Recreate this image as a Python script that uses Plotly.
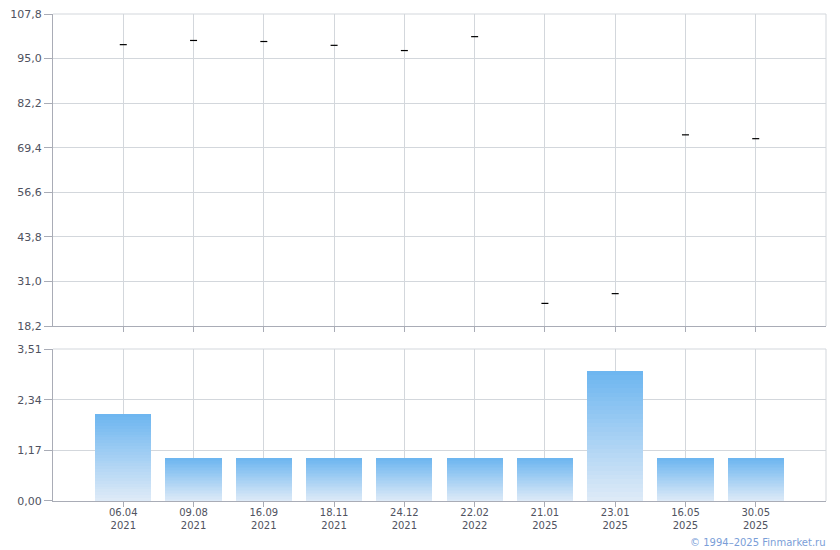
import plotly.graph_objects as go

categories = ["06.04<br>2021", "09.08<br>2021", "16.09<br>2021", "18.11<br>2021", "24.12<br>2021",
              "22.02<br>2022", "21.01<br>2025", "23.01<br>2025", "16.05<br>2025", "30.05<br>2025"]
prices = [99.0, 100.2, 99.9, 98.8, 97.3, 101.3, 24.7, 27.5, 73.1, 72.0]
volumes = [2, 1, 1, 1, 1, 1, 1, 3, 1, 1]
price_ticks = [18.2, 31.0, 43.8, 56.6, 69.4, 82.2, 95.0, 107.8]
volume_ticks = [0.00, 1.17, 2.34, 3.51]

GRID = "#d3d7dc"
AXIS = "#a9acb6"
TXT = "#4f5260"
FONT = "DejaVu Sans"

fig = go.Figure()

fig.add_trace(go.Scatter(
    x=categories, y=prices, mode="markers", xaxis="x", yaxis="y",
    marker=dict(symbol="line-ew", size=5, line=dict(width=1.2, color="#000000")),
    showlegend=False, hoverinfo="x+y"))

# gradient bars built from stacked slices of each volume
N = 30
top_c = (110, 182, 240)
bot_c = (221, 234, 247)
for k in range(N):
    t = k / (N - 1)
    c = tuple(round(bot_c[i] + (top_c[i] - bot_c[i]) * t) for i in range(3))
    fig.add_trace(go.Bar(
        x=categories, y=[v / N for v in volumes], xaxis="x2", yaxis="y2",
        width=0.8, marker=dict(color="rgb(%d,%d,%d)" % c, line=dict(width=0)),
        showlegend=False, hoverinfo="skip"))

border = dict(color=GRID, width=1)
fig.update_layout(
    width=832, height=542,
    margin=dict(l=45, r=14, t=6, b=49, autoexpand=False),
    paper_bgcolor="white", plot_bgcolor="white",
    separators=", ",
    barmode="stack", bargap=0,
    font=dict(family=FONT, size=10, color=TXT),
    xaxis=dict(domain=[0, 1], anchor="y", type="category", range=[-1, 10],
               categoryorder="array", categoryarray=categories, automargin=False,
               showticklabels=False, showgrid=True, gridcolor=GRID, gridwidth=1,
               showline=True, linecolor=AXIS, linewidth=1,
               ticks="outside", ticklen=5, tickcolor=AXIS, zeroline=False),
    yaxis=dict(domain=[0.3593, 1], anchor="x", range=[18.2, 107.8], automargin=False,
               tickvals=price_ticks, tickformat=".1f", tickfont=dict(size=11),
               ticklabeloverflow="allow",
               showgrid=True, gridcolor=GRID, gridwidth=1,
               showline=True, linecolor=AXIS, linewidth=1,
               ticks="outside", ticklen=8, tickcolor=AXIS, zeroline=False),
    xaxis2=dict(domain=[0, 1], anchor="y2", type="category", range=[-1, 10],
                categoryorder="array", categoryarray=categories, matches="x", automargin=False,
                showticklabels=True, ticklabelstandoff=-3, ticklabeloverflow="allow",
                showgrid=True, gridcolor=GRID, gridwidth=1,
                showline=True, linecolor=AXIS, linewidth=1,
                ticks="outside", ticklen=5, tickcolor=AXIS, zeroline=False),
    yaxis2=dict(domain=[0, 0.3121], anchor="x2", range=[0, 3.51], automargin=False,
                tickvals=volume_ticks, tickformat=".2f", tickfont=dict(size=11),
                ticklabeloverflow="allow",
                showgrid=True, gridcolor=GRID, gridwidth=1,
                showline=True, linecolor=AXIS, linewidth=1,
                ticks="outside", ticklen=8, tickcolor=AXIS, zeroline=False),
    shapes=[
        dict(type="line", xref="x domain", yref="y domain", x0=1, x1=1, y0=0, y1=1, line=border),
        dict(type="line", xref="x2 domain", yref="y2 domain", x0=1, x1=1, y0=0, y1=1, line=border),
        dict(type="line", xref="x domain", yref="y domain", x0=0, x1=1, y0=1, y1=1, line=border),
        dict(type="line", xref="x2 domain", yref="y2 domain", x0=0, x1=1, y0=1, y1=1, line=border),
    ],
    annotations=[dict(text="© 1994–2025 Finmarket.ru", xref="paper", yref="paper",
                      x=1.003, y=-0.07, xanchor="right", yanchor="top", showarrow=False,
                      font=dict(family=FONT, size=10, color="#7a9ed8"))],
)

fig.write_html("out.html")
